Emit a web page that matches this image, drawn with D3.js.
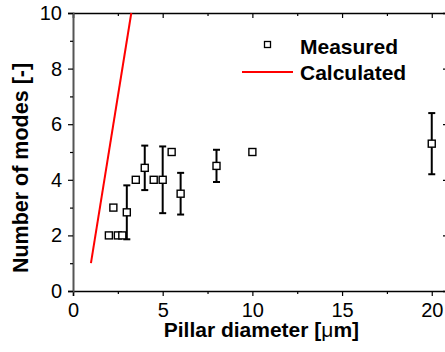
<!DOCTYPE html>
<html>
<head>
<meta charset="utf-8">
<script src="https://cdn.jsdelivr.net/npm/d3@7"></script>
<style>
  html, body { margin: 0; padding: 0; background: #fff; }
  svg { display: block; font-family: "Liberation Sans", Arial, sans-serif; }
</style>
</head>
<body>
<svg id="chart" width="445" height="352"></svg>
<script>
// Measured mode counts vs. pillar diameter
const measuredDiameter = [2, 2.25, 2.5, 2.75, 3, 3.5, 4, 4.5, 5, 5.5, 6, 8, 10, 20];
const measuredModes    = [2, 3, 2, 2, 2.83, 4, 4.43, 4, 4, 5, 3.5, 4.5, 5, 5.3];
const measuredError    = [0, 0, 0, 0, 0.97, 0, 0.8, 0, 1.2, 0, 0.75, 0.58, 0, 1.1];

// Calculated curve
const calcDiameter = [1, 3.25];
const calcModes    = [1, 10];

const xMajorTicks = [0, 5, 10, 15, 20];
const xMinorTicks = [2.5, 7.5, 12.5, 17.5];
const yMajorTicks = [0, 2, 4, 6, 8, 10];
const yMinorTicks = [1, 3, 5, 7, 9];

const legendLabels = ["Measured", "Calculated"];

const svg = d3.select("#chart");
const x = d3.scaleLinear().domain([0, 20.85]).range([73, 447]);
const y = d3.scaleLinear().domain([0, 10]).range([291, 13]);

const plotLeft = x.range()[0], plotRight = x.range()[1];
const plotTop = y.range()[1], plotBottom = y.range()[0];

// Frame: top and right axes with inward ticks
svg.append("g").attr("transform", `translate(0,${plotTop})`)
  .call(d3.axisTop(x).tickValues(xMajorTicks).tickSize(-5).tickFormat(""));
svg.append("g").attr("transform", `translate(0,${plotTop})`)
  .call(d3.axisTop(x).tickValues(xMinorTicks).tickSize(-3).tickFormat(""))
  .select(".domain").remove();
svg.append("g").attr("transform", `translate(${plotRight},0)`)
  .call(d3.axisRight(y).tickValues(yMajorTicks).tickSize(-4).tickFormat(""));

// Bottom axis
svg.append("g").attr("transform", `translate(0,${plotBottom})`)
  .call(d3.axisBottom(x).tickValues(xMajorTicks).tickSize(5).tickPadding(7).tickFormat(d3.format("d")));
svg.append("g").attr("transform", `translate(0,${plotBottom})`)
  .call(d3.axisBottom(x).tickValues(xMinorTicks).tickSize(3).tickFormat(""))
  .select(".domain").remove();

// Left axis
const yAxis = svg.append("g").attr("transform", `translate(${plotLeft},0)`)
  .call(d3.axisLeft(y).tickValues(yMajorTicks).tickSize(5).tickPadding(6).tickFormat(d3.format("d")));
svg.append("g").attr("transform", `translate(${plotLeft},0)`)
  .call(d3.axisLeft(y).tickValues(yMinorTicks).tickSize(3).tickFormat(""))
  .select(".domain").remove();

svg.selectAll(".domain").attr("stroke", "#000").attr("stroke-width", 1.5);
yAxis.select(".domain").attr("stroke", "#555").attr("stroke-width", 2);
svg.selectAll(".tick line").attr("stroke", "#000").attr("stroke-width", 1.2);
svg.selectAll(".tick text").attr("font-size", 20).attr("fill", "#000")
  .attr("font-family", "'Liberation Sans', Arial, sans-serif");

// Axis titles
svg.append("text")
  .attr("x", (x(0) + x(20)) / 2 + 9).attr("y", 337)
  .attr("text-anchor", "middle").attr("font-size", 21).attr("font-weight", "bold")
  .call(t => {
    t.append("tspan").text("Pillar diameter [");
    t.append("tspan").attr("font-weight", "normal").text("\u03bc");
    t.append("tspan").text("m]");
  });

svg.append("text")
  .attr("transform", "translate(28,168) rotate(-90)")
  .attr("text-anchor", "middle").attr("font-size", 21.5).attr("font-weight", "bold")
  .text("Number of modes [-]");

// Plot contents
const plot = svg.append("g");

// Calculated line
plot.append("path")
  .datum(calcDiameter.map((d, i) => [d, calcModes[i]]))
  .attr("fill", "none").attr("stroke", "#ff0000").attr("stroke-width", 2)
  .attr("d", d3.line().x(d => x(d[0])).y(d => y(d[1])));

// Error bars
const pts = measuredDiameter.map((d, i) => ({ x: d, y: measuredModes[i], e: measuredError[i] }));
const withErr = pts.filter(p => p.e > 0);
const eb = plot.append("g").attr("stroke", "#000").attr("stroke-width", 2);
eb.selectAll("line.v").data(withErr).join("line").attr("class", "v")
  .attr("x1", p => x(p.x)).attr("x2", p => x(p.x))
  .attr("y1", p => y(p.y - p.e)).attr("y2", p => y(p.y + p.e));
eb.selectAll("line.t").data(withErr).join("line").attr("class", "t")
  .attr("x1", p => x(p.x) - 3.5).attr("x2", p => x(p.x) + 3.5)
  .attr("y1", p => y(p.y + p.e)).attr("y2", p => y(p.y + p.e));
eb.selectAll("line.b").data(withErr).join("line").attr("class", "b")
  .attr("x1", p => x(p.x) - 3.5).attr("x2", p => x(p.x) + 3.5)
  .attr("y1", p => y(p.y - p.e)).attr("y2", p => y(p.y - p.e));

// Measured squares
const sq = 7;
plot.selectAll("rect.m").data(pts).join("rect").attr("class", "m")
  .attr("x", p => x(p.x) - sq / 2).attr("y", p => y(p.y) - sq / 2)
  .attr("width", sq).attr("height", sq)
  .attr("fill", "#fff").attr("stroke", "#000").attr("stroke-width", 1.4);

// Legend
const lg = svg.append("g");
lg.append("rect").attr("x", 264.5).attr("y", 41.5).attr("width", 6).attr("height", 6)
  .attr("fill", "#fff").attr("stroke", "#000").attr("stroke-width", 1.3);
lg.append("line").attr("x1", 242).attr("x2", 293).attr("y1", 72).attr("y2", 72)
  .attr("stroke", "#ff0000").attr("stroke-width", 2);
lg.selectAll("text").data(legendLabels).join("text")
  .attr("x", 300).attr("y", (d, i) => 53.5 + i * 26.5)
  .attr("font-size", 21).attr("font-weight", "bold").text(d => d);
</script>
</body>
</html>
